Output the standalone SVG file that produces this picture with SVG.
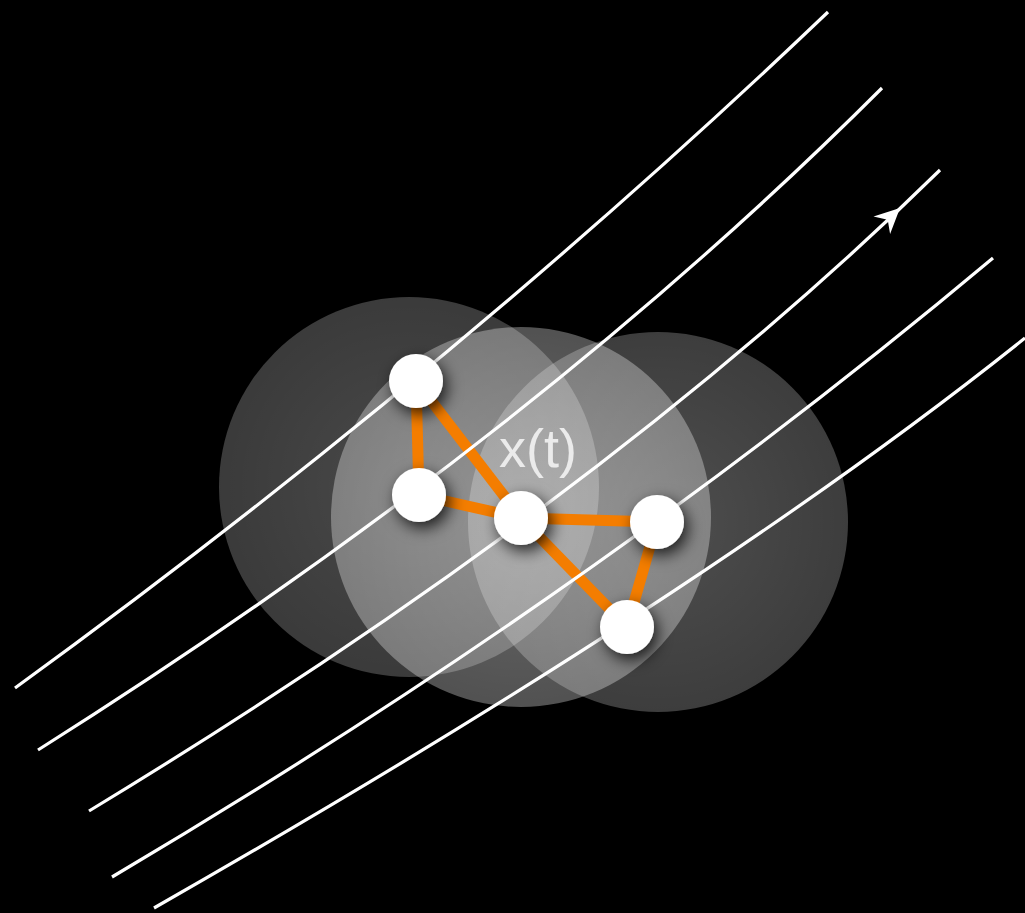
<svg xmlns="http://www.w3.org/2000/svg" width="1025" height="913" viewBox="0 0 1025 913">
  <defs>
    <radialGradient id="gA" cx="0.5" cy="0.5" r="0.5">
      <stop offset="0" stop-color="#ffffff" stop-opacity="0.29"/>
      <stop offset="1" stop-color="#ffffff" stop-opacity="0.23"/>
    </radialGradient>
    <radialGradient id="gB" cx="0.5" cy="0.5" r="0.5">
      <stop offset="0" stop-color="#ffffff" stop-opacity="0.42"/>
      <stop offset="1" stop-color="#ffffff" stop-opacity="0.32"/>
    </radialGradient>
    <radialGradient id="gC" cx="0.5" cy="0.5" r="0.5">
      <stop offset="0" stop-color="#ffffff" stop-opacity="0.31"/>
      <stop offset="1" stop-color="#ffffff" stop-opacity="0.24"/>
    </radialGradient>
    <filter id="shadow" x="-100%" y="-100%" width="300%" height="300%">
      <feDropShadow dx="4" dy="6" stdDeviation="8" flood-color="#000000" flood-opacity="0.8"/>
    </filter>
  </defs>
  <style>
    .stream { fill: none; stroke: #ffffff; stroke-width: 3.2; }
    .edge { stroke: #f47d00; stroke-width: 11; fill: none; }
    .node { fill: #ffffff; filter: url(#shadow); }
    .label { font-family: "Liberation Sans", Arial, sans-serif; font-size: 54px; fill: #ebebeb; }
  </style>
  <rect x="0" y="0" width="1025" height="913" fill="#000000"/>

  <g id="regions">
    <circle id="regionA" cx="409" cy="487" r="190" fill="url(#gA)"/>
    <circle id="regionB" cx="521" cy="517" r="190" fill="url(#gB)"/>
    <circle id="regionC" cx="658" cy="522" r="190" fill="url(#gC)"/>
  </g>

  <g id="edges">
    <line class="edge" x1="416" y1="381" x2="419" y2="495"/>
    <line class="edge" x1="416" y1="381" x2="521" y2="518"/>
    <line class="edge" x1="419" y1="495" x2="521" y2="518"/>
    <line class="edge" x1="521" y1="518" x2="657" y2="522"/>
    <line class="edge" x1="521" y1="518" x2="627" y2="627"/>
    <line class="edge" x1="657" y1="522" x2="627" y2="627"/>
  </g>

  <g id="streamlines">
    <path class="stream" d="M15,688 Q455,368 828,12"/>
    <path class="stream" d="M38,750 Q530,440 882,88"/>
    <path class="stream" d="M89,811 Q607,497 940,170"/>
    <path class="stream" d="M112,877 Q596,591 993,258"/>
    <path class="stream" d="M154,908 Q705,594 1025,338"/>
    <path id="arrowhead" d="M900,208 L873.5,216.5 L887.7,219.7 L890.1,233.9 Z" fill="#ffffff"/>
  </g>

  <g id="node1"><circle class="node" cx="416" cy="381" r="27"/></g>
  <g id="node2"><circle class="node" cx="419" cy="495" r="27"/></g>
  <g id="node3"><circle class="node" cx="521" cy="518" r="27"/></g>
  <g id="node4"><circle class="node" cx="657" cy="522" r="27"/></g>
  <g id="node5"><circle class="node" cx="627" cy="627" r="27"/></g>

  <g id="label">
    <text class="label" x="499" y="467">x(t)</text>
  </g>
</svg>
